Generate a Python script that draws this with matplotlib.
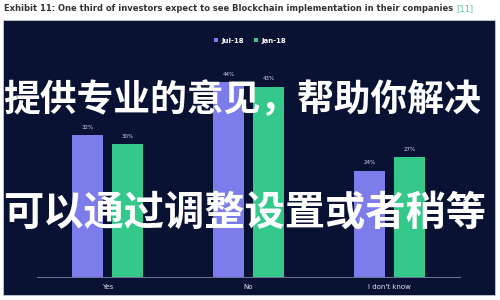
import matplotlib.pyplot as plt
import numpy as np
from matplotlib.patches import Rectangle

categories = ["Yes", "No", "I don't know"]
jul18 = [32, 44, 24]
jan18 = [30, 43, 27]
series_names = ["Jul-18", "Jan-18"]
title = "Exhibit 11: One third of investors expect to see Blockchain implementation in their companies"
overlay1 = "提供专业的意见，帮助你解决"
overlay2 = "可以通过调整设置或者稍等"

navy = "#0a1234"
purple = "#7d7ceb"
green = "#34c98b"

fig = plt.figure(figsize=(5, 3), dpi=100)
fig.patch.set_facecolor("white")

# dark panel behind the chart
fig.patches.append(Rectangle((0.006, 0.017), 0.984, 0.915, transform=fig.transFigure,
                             facecolor=navy, edgecolor="#c8c8d0", linewidth=0.6, zorder=-1))

t = fig.text(0.008, 0.972, title, fontsize=6.0, fontweight="bold", color="#333333",
             va="center", ha="left")
fig.canvas.draw()
bb = t.get_window_extent()
fig.text(bb.x1 / 500 + 0.006, 0.972, "[11]", fontsize=6.0, color="#4fc3a9",
         va="center", ha="left")

ax = fig.add_axes([0.074, 0.0767, 0.846, 0.738])
ax.set_zorder(1)
ax.set_facecolor("none")
x = np.arange(len(categories))
w = 0.22
b1 = ax.bar(x - 0.142, jul18, w, color=purple, label=series_names[0])
b2 = ax.bar(x + 0.142, jan18, w, color=green, label=series_names[1])
for bars, vals in [(b1, jul18), (b2, jan18)]:
    for r, v in zip(bars, vals):
        ax.text(r.get_x() + r.get_width() / 2, v + 1.2, f"{v}%", ha="center",
                va="bottom", fontsize=4, color="#d0d4e8")
ax.set_xlim(-0.5, 2.5)
ax.set_ylim(0, 50)
ax.set_xticks(x)
ax.set_xticklabels(categories, fontsize=5, color="#e0e2ee")
ax.tick_params(axis="x", length=0, pad=5)
ax.set_yticks([])
for s in ["top", "right", "left"]:
    ax.spines[s].set_visible(False)
ax.spines["bottom"].set_color("#8088a8")
ax.spines["bottom"].set_linewidth(0.6)

leg = fig.legend(handles=[b1, b2], loc="center", bbox_to_anchor=(0.5, 0.865), ncol=2,
                 frameon=False, fontsize=5, handlelength=0.6, handleheight=0.6,
                 handletextpad=0.4, columnspacing=1.5)
for txt in leg.get_texts():
    txt.set_color("white")
    txt.set_fontweight("bold")

fig.text(0.006, 0.665, overlay1, fontsize=26.5, color="white", fontweight="bold",
         family=["Noto Sans CJK SC", "DejaVu Sans"], va="center", ha="left", zorder=5)
fig.text(0.006, 0.29, overlay2, fontsize=29, color="white", fontweight="bold",
         family=["Noto Sans CJK SC", "DejaVu Sans"], va="center", ha="left", zorder=5)

fig.savefig("out.png", dpi=100, facecolor="white")
